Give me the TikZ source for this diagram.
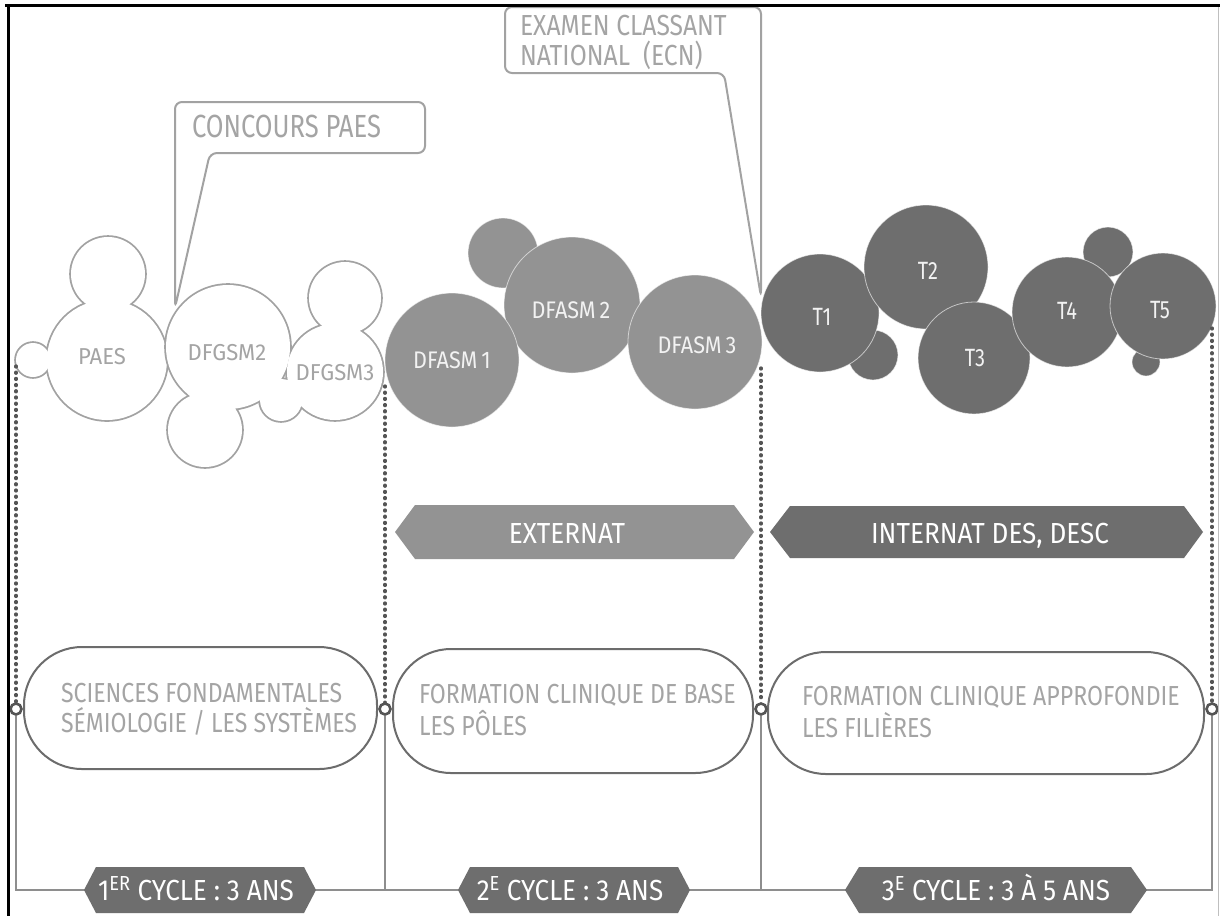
\documentclass[tikz,border=0pt]{standalone}
\usepackage{fontspec}
\setmainfont{Fira Sans}[FakeStretch=0.8]
\newfontfamily\fA{Fira Sans}[FakeStretch=0.80]
\newfontfamily\fB{Fira Sans}[FakeStretch=0.85]
\newfontfamily\fC{Fira Sans}[FakeStretch=0.84]
\newfontfamily\fD{Fira Sans}[FakeStretch=0.90]
\newfontfamily\fE{Fira Sans}[FakeStretch=0.96]
\definecolor{lineg}{HTML}{A2A2A2}
\definecolor{lablg}{HTML}{A4A4A4}
\definecolor{midg}{HTML}{939393}
\definecolor{darkg}{HTML}{6E6E6E}
\definecolor{boxg}{HTML}{6C6C6C}
\definecolor{dotg}{HTML}{555555}
\definecolor{conng}{HTML}{8E8E8E}
\definecolor{ontxt}{HTML}{F2F2F2}
\begin{document}
\begin{tikzpicture}[x=1pt,y=-1pt,
  txt/.style={inner sep=0pt, outer sep=0pt},
  wlab/.style={txt, text=lablg, font=\fE\fontsize{23}{27}\selectfont},
  glab/.style={txt, text=ontxt, font=\fD\fontsize{24}{28}\selectfont},
  tlab/.style={txt, text=ontxt, font=\fontsize{25}{29}\selectfont},
  calltxt/.style={txt, text=lablg},
  callout/.style={draw=lineg, line width=2, rounded corners=7},
  boxtxt/.style={txt, text=lablg, font=\fC\fontsize{27.5}{31}\selectfont},
  bantxt/.style={txt, text=white, font=\fD\fontsize{29}{33}\selectfont},
  rbox/.style={draw=boxg, line width=2, fill=white, rounded corners=58, inner sep=0pt},
  ring/.style={circle, draw=dotg, line width=2.6, fill=white, minimum size=11, inner sep=0pt},
  dots/.style={draw=dotg, line width=3.3, line cap=round, dash pattern=on 1pt off 5.2pt},
  conn/.style={draw=conng, line width=2.2},
  seam/.style={draw=white, draw opacity=0.6, line width=0.8}
]
\useasboundingbox (0,0) rectangle (1220,916);
\fill[white] (0,0) rectangle (1220,916);

% ---- first cycle: white bubbles (union outlines)
\foreach \cx/\cy/\r in {107/360/60,108/274/37,33/360/17}
  \draw[lineg, line width=3.6] (\cx,\cy) circle[radius=\r];
\foreach \cx/\cy/\r in {107/360/60,108/274/37,33/360/17}
  \fill[white] (\cx,\cy) circle[radius=\r];
\foreach \cx/\cy/\r in {228/347/62,205/430/37,281/400/21,335/372/48,345/298/36}
  \draw[lineg, line width=3.6] (\cx,\cy) circle[radius=\r];
\foreach \cx/\cy/\r in {228/347/62,205/430/37,281/400/21,335/372/48,345/298/36}
  \fill[white] (\cx,\cy) circle[radius=\r];

% ---- second cycle: mid grey bubbles
\foreach \cx/\cy/\r in {503/253/35,572/305/68,452/360/67,695/342/67}
  \filldraw[fill=midg, seam] (\cx,\cy) circle[radius=\r];

% ---- third cycle: dark grey bubbles
\foreach \cx/\cy/\r in {873/355/25,820/313/59,926/267/62,974/358/56,1108/252/25,1146/362/14,1067/312/55,1163/306/53}
  \filldraw[fill=darkg, seam] (\cx,\cy) circle[radius=\r];

% ---- bubble labels
\node[wlab, anchor=base] (lpaes) at (102,364.5) {PAES};
\node[wlab, anchor=base] (ldfgsm2) at (227,360.5) {DFGSM2};
\node[wlab, anchor=base] (ldfgsm3) at (335,380.5) {DFGSM3};
\node[glab, anchor=base] (ldfasm1) at (452,368.5) {DFASM\,1};
\node[glab, anchor=base] (ldfasm2) at (571,318.5) {DFASM\,2};
\node[glab, anchor=base] (ldfasm3) at (697,353.5) {DFASM\,3};
\node[tlab, anchor=base] (lt1) at (822,325.5) {T1};
\node[tlab, anchor=base] (lt2) at (928,279) {T2};
\node[tlab, anchor=base] (lt3) at (975,366) {T3};
\node[tlab, anchor=base] (lt4) at (1067,319) {T4};
\node[tlab, anchor=base] (lt5) at (1160,318.5) {T5};

% ---- callouts
\draw[callout] (175,308) -- (175,102) -- (425,102) -- (425,153) -- (210,153) -- cycle;
\node[calltxt, anchor=base west, font=\fA\fontsize{32}{36}\selectfont] (cpaes) at (192,137) {CONCOURS PAES};
\draw[callout] (761,297) -- (761,7) -- (505,7) -- (505,73) -- (724,73) -- cycle;
\node[calltxt, anchor=base west, font=\fB\fontsize{29}{33}\selectfont] (ecna) at (520,35) {EXAMEN CLASSANT};
\node[calltxt, anchor=base west, font=\fB\fontsize{29}{33}\selectfont] (ecnb) at (520,65) {NATIONAL~~(ECN)};

% ---- banners
\fill[midg] (395,532) -- (415,505) -- (734,505) -- (754,532) -- (734,559) -- (415,559) -- cycle;
\node[bantxt, anchor=base] (ext) at (567,543) {EXTERNAT};
\fill[darkg] (770,532) -- (790,506) -- (1184,506) -- (1203,532) -- (1184,558) -- (790,558) -- cycle;
\node[bantxt, anchor=base] (int) at (990,543) {INTERNAT DES, DESC};

% ---- rounded boxes
\node[rbox, minimum width=353, minimum height=122] (box1) at (200.5,708) {};
\node[boxtxt, anchor=base west] (b1a) at (61,702) {SCIENCES FONDAMENTALES};
\node[boxtxt, anchor=base west] (b1b) at (61,732) {SÉMIOLOGIE / LES SYSTÈMES};
\node[rbox, minimum width=360, minimum height=124] (box2) at (573,711) {};
\node[boxtxt, anchor=base west] (b2a) at (419,703) {FORMATION CLINIQUE DE BASE};
\node[boxtxt, anchor=base west] (b2b) at (419,735) {LES PÔLES};
\node[rbox, minimum width=436, minimum height=122] (box3) at (986,713) {};
\node[boxtxt, anchor=base west] (b3a) at (802,705) {FORMATION CLINIQUE APPROFONDIE};
\node[boxtxt, anchor=base west] (b3b) at (802,737) {LES FILIÈRES};

% ---- dividers
\coordinate (d1) at (16,366);
\coordinate (d2) at (385,386);
\coordinate (d3) at (761,368);
\coordinate (d4) at (1212,328);
\coordinate (j1) at (16,890);
\coordinate (j2) at (385,890);
\coordinate (j3) at (761,890);
\coordinate (j4) at (1212,890);
\node[ring] (r1) at (16,709) {};
\node[ring] (r2) at (385,709) {};
\node[ring] (r3) at (761,709) {};
\node[ring] (r4) at (1212,709) {};
\draw[dots] (d1) -- (r1.north);
\draw[dots] (d2) -- (r2.north);
\draw[dots] (d3) -- (r3.north);
\draw[dots] (d4) -- (r4.north);
\draw[conn] (r1) -- (j1) -- (j4) -- (r4);
\draw[conn] (r2) -- (j2);
\draw[conn] (r3) -- (j3);

% ---- cycle banners
\fill[darkg] (84,890) -- (96,867) -- (304,867) -- (316,890) -- (304,913) -- (96,913) -- cycle;
\node[bantxt, anchor=base] (c1) at (196,900) {1\textsuperscript{ER} CYCLE : 3 ANS};
\fill[darkg] (458,890) -- (470,867) -- (678,867) -- (690,890) -- (678,913) -- (470,913) -- cycle;
\node[bantxt, anchor=base] (c2) at (570,900) {2\textsuperscript{E} CYCLE : 3 ANS};
\fill[darkg] (845,890) -- (859,867) -- (1131,867) -- (1147,890) -- (1131,913) -- (859,913) -- cycle;
\node[bantxt, anchor=base] (c3) at (996,900) {3\textsuperscript{E} CYCLE : 3 À 5 ANS};

% ---- frame
\draw[black!25, line width=1] (1218,5) -- (1218,916);
\draw[black, line width=3] (5,5) -- (1220,5);
\draw[black, line width=3] (8,5) -- (8,916);
\end{tikzpicture}
\end{document}
